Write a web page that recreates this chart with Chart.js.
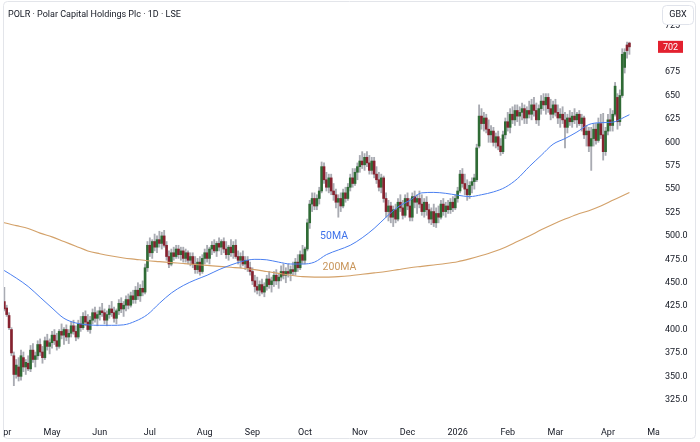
<!DOCTYPE html>
<html>
<head>
<meta charset="utf-8">
<script src="https://cdn.jsdelivr.net/npm/chart.js@4.4.1/dist/chart.umd.min.js"></script>
<style>
  html, body { margin: 0; padding: 0; background: #fff; }
  #wrap { width: 700px; height: 442px; }
</style>
</head>
<body>
<div id="wrap"><canvas id="chart" width="700" height="442"></canvas></div>
<script>
// daily candles, index = trading day counted from 1 Apr 2025
const opens = [430,423,415,400,372,352,360,350,370,360,364,358,378,368,372,384,376,370,388,382,
  386,394,388,382,398,394,400,392,396,404,398,392,406,402,414,408,400,410,418,412,
  416,420,418,410,416,422,418,412,420,428,422,426,432,426,436,432,442,436,444,440,466,
  490,482,494,488,496,492,500,490,478,470,482,478,486,480,484,476,482,474,478,470,464,472,462,
  476,482,476,486,490,484,492,488,494,486,480,488,482,490,478,474,478,470,474,466,
  462,452,446,442,448,440,446,454,448,452,458,452,456,462,458,462,460,464,462,472,466,480,
  474,486,514,534,540,532,540,548,574,560,552,562,548,544,536,540,532,546,540,552,562,556,568,
  574,580,576,584,578,570,580,566,560,552,562,540,526,532,520,528,518,536,530,522,
  540,532,520,542,536,540,534,526,536,528,518,526,514,524,520,534,526,532,528,536,530,
  540,548,566,556,550,544,554,558,560,596,628,620,626,614,608,612,600,606,596,590,608,
  622,616,630,624,634,628,632,636,626,634,630,640,634,624,636,644,640,648,636,630,
  640,632,626,630,624,616,626,622,628,624,630,620,626,608,612,596,604,614,602,620,608,590,
  612,624,618,630,648,622,650,680,704,706];
const highs = [445,426,418,402,376,368,370,378,376,368,372,383,385,376,388,390,382,392,395,390,
  398,400,396,400,406,402,405,400,408,410,404,410,414,418,420,416,414,422,424,420,
  424,428,422,420,426,430,424,422,432,434,430,436,438,440,442,446,450,448,452,470,494,
  498,496,502,500,505,504,506,494,484,486,488,490,490,488,488,486,484,482,482,478,476,478,480,
  486,490,488,494,496,494,498,496,498,494,490,496,494,496,484,482,484,478,478,472,
  466,458,456,452,454,450,458,462,456,462,464,460,468,470,466,470,468,472,476,480,484,490,
  488,518,538,546,546,544,552,579,578,568,566,566,556,550,544,546,550,552,556,566,572,572,578,
  586,590,588,590,586,584,584,574,568,566,564,546,538,536,532,534,540,544,538,544,
  546,540,546,548,544,548,544,540,542,534,530,534,530,532,538,540,536,538,540,542,544,
  552,570,572,566,560,558,562,566,598,640,636,632,630,624,618,616,610,612,604,612,626,
  632,636,638,640,640,638,642,640,638,644,646,648,642,640,650,652,652,652,646,644,
  646,640,636,638,632,630,634,632,636,632,634,630,628,618,616,616,620,620,626,630,631,616,
  630,636,634,664,652,656,700,700,707,707];
const lows = [420,414,400,372,340,348,345,346,355,352,356,355,365,360,368,372,364,368,378,374,
  380,384,378,380,390,384,388,385,392,395,388,390,398,400,404,398,396,406,408,404,
  410,414,406,404,412,414,408,406,416,418,414,420,422,424,428,428,432,430,436,438,462,
  478,476,484,482,488,486,488,474,466,468,474,476,476,474,472,472,470,468,466,460,460,458,460,
  470,472,470,480,482,478,484,480,482,476,474,478,476,476,470,466,468,464,462,458,
  448,440,438,436,438,435,442,444,440,446,448,444,452,454,450,456,452,458,458,462,464,470,
  470,484,508,526,528,528,534,546,556,548,546,544,538,530,520,526,530,536,538,548,552,554,560,
  568,572,570,574,566,566,562,556,548,546,536,520,516,514,510,514,516,526,518,520,
  528,516,516,530,524,530,522,520,522,514,512,510,509,514,518,522,520,524,524,526,528,
  536,546,552,544,538,540,546,550,558,594,614,612,610,600,600,596,594,592,586,588,604,
  612,610,620,618,622,618,624,620,620,626,624,628,620,618,630,634,630,632,624,626,
  628,620,616,620,594,610,618,616,620,616,618,612,604,596,590,570,596,598,600,604,581,586,
  608,612,612,628,614,618,648,674,690,694];
const closes = [422,416,402,375,352,362,350,372,360,365,358,378,368,372,384,376,370,388,382,386,
  394,388,382,398,394,400,392,396,404,398,392,406,402,414,408,400,410,418,412,416,
  420,418,410,416,422,418,412,420,428,422,426,432,426,436,432,442,436,444,440,466,490,
  482,494,488,496,492,500,490,478,470,482,478,486,480,484,476,482,474,478,470,464,472,462,476,
  482,476,486,490,484,492,488,494,486,480,488,482,490,478,474,478,470,474,466,462,
  452,446,442,448,440,446,454,448,452,458,452,456,462,458,462,460,464,462,472,466,480,474,
  486,514,534,540,532,540,548,574,560,552,562,548,544,536,540,532,546,540,552,562,556,568,574,
  580,576,584,578,570,580,566,560,552,562,540,526,532,520,528,518,536,530,522,540,
  532,520,542,536,540,534,526,536,528,518,526,514,524,520,534,526,532,528,536,530,540,
  548,566,556,550,544,554,558,562,594,628,620,626,614,608,612,600,606,596,590,608,622,
  616,630,624,634,628,632,636,626,634,630,640,634,624,636,644,640,648,636,630,640,
  632,626,630,624,616,626,622,628,624,630,620,626,608,612,596,604,614,602,620,608,590,612,
  624,618,630,660,622,650,694,696,698,702];

// moving averages, one point per trading week
const maIdx = [-2,0,5,10,15,20,25,30,35,40,45,50,55,60,65,70,75,80,85,90,95,100,105,110,115,120,125,
  130,135,140,145,150,155,160,165,170,175,180,185,190,195,200,205,210,215,220,225,230,235,240,245,250,255,260,262];
const ma50 = [466,463,455,446,434.5,423,412,407,405,404.5,404.5,405,409,416,428,439,447,453,458,464,469,473,475,474.5,472,470,470,
  472,480,485,490,498,508,520,531,538,546,546.5,545.5,543.5,542,544,547,552,561,574,586,598,604,611,619,621,621.5,627,629.5];
const ma200 = [515,514,511,508,503,499,494,489,484,481,478.5,476.5,475,473.5,472.5,471.5,470.5,469.5,468.5,467.5,466.5,465.5,464,462,460,458,456.5,
  456,456,456.5,457.5,459,460.5,462,464,466,467.5,469,470.5,472.5,475.5,479,483,488,494,500,506.5,512.5,518,523,527,532,538,544,546.5];

const monthIdx = [0,20,40,61,84,104,126,149,169,190,211,231,253,273];
const monthLabels = ['Apr','May','Jun','Jul','Aug','Sep','Oct','Nov','Dec','2026','Feb','Mar','Apr','May'];
const priceTicks = [325,350,375,400,425,450,475,500,525,550,575,600,625,650,675,700,725];
const lastPrice = 702;
const maLabels = [
  { text: '50MA', idx: 138.2, price: 499.4, color: '#3f72ea' },
  { text: '200MA', idx: 140.5, price: 466.8, color: '#c8955a' }
];

const UP = '#2f6b35', DOWN = '#86222f', WICK = '#a9abb2';
const FONT = 'Roboto';

const wickData = highs.map((h, i) => ({ x: i, y: [lows[i], h] }));
const bodyData = opens.map((o, i) => ({ x: i, y: [o, closes[i]] }));
const bodyColors = opens.map((o, i) => closes[i] >= o ? UP : DOWN);

const decorations = {
  id: 'decorations',
  afterDraw(chart) {
    const ctx = chart.ctx;
    const { x, y } = chart.scales;
    const area = chart.chartArea;
    ctx.save();

    // MA labels
    ctx.font = '10.5px ' + FONT;
    ctx.textAlign = 'center';
    ctx.textBaseline = 'middle';
    maLabels.forEach(l => {
      ctx.fillStyle = l.color;
      ctx.fillText(l.text, x.getPixelForValue(l.idx), y.getPixelForValue(l.price));
    });

    // clip x labels at the sides
    ctx.fillStyle = '#fff';
    ctx.fillRect(0, area.bottom + 1, 3, 442 - area.bottom);
    ctx.fillRect(area.right + 0.5, area.bottom + 1, 700 - area.right, 442 - area.bottom);

    // title
    ctx.textAlign = 'left';
    ctx.fillStyle = '#131722';
    ctx.font = '9px ' + FONT;
    ctx.fillText('POLR · Polar Capital Holdings Plc · 1D · LSE', 8, 14.5);

    // currency box
    ctx.beginPath();
    ctx.roundRect(662.5, 5.5, 31, 19, 4);
    ctx.fillStyle = '#fff';
    ctx.fill();
    ctx.strokeStyle = '#e0e3eb';
    ctx.lineWidth = 1;
    ctx.stroke();
    ctx.fillStyle = '#131722';
    ctx.textAlign = 'center';
    ctx.fillText('GBX', 678, 15);

    // last price tag
    const py = y.getPixelForValue(lastPrice);
    ctx.fillStyle = '#e3212f';
    ctx.fillRect(area.right - 1, py - 6, 25, 12);
    ctx.fillStyle = '#fff';
    ctx.fillText(String(lastPrice), area.right + 11.5, py + 0.5);

    // frame
    ctx.beginPath();
    ctx.roundRect(3.5, 1.5, 692, 437, 4);
    ctx.strokeStyle = '#e3e5ea';
    ctx.stroke();
    ctx.restore();
  }
};

new Chart(document.getElementById('chart'), {
  type: 'bar',
  data: {
    datasets: [
      { type: 'line', data: maIdx.map((v, i) => ({ x: v, y: ma50[i] })), borderColor: '#4a7ff0', borderWidth: 1,
        pointRadius: 0, cubicInterpolationMode: 'monotone', order: 0 },
      { type: 'line', data: maIdx.map((v, i) => ({ x: v, y: ma200[i] })), borderColor: '#d3a169', borderWidth: 1.1,
        pointRadius: 0, cubicInterpolationMode: 'monotone', order: 0 },
      { data: bodyData, backgroundColor: bodyColors, barThickness: 2, minBarLength: 1, grouped: false, order: 1 },
      { data: wickData, backgroundColor: WICK, barThickness: 1.2, grouped: false, order: 2 }
    ]
  },
  options: {
    responsive: false,
    animation: false,
    layout: { padding: { left: 4, top: 2, right: 0, bottom: 0 } },
    plugins: { legend: { display: false }, tooltip: { enabled: false } },
    scales: {
      x: {
        type: 'linear',
        min: -0.13,
        max: 274.4,
        offset: false,
        grid: { display: false, drawTicks: false },
        border: { display: false },
        ticks: {
          autoSkip: false, maxRotation: 0, padding: 9, color: '#131722',
          font: { family: FONT, size: 9 },
          callback: (v, i) => monthLabels[i]
        },
        afterBuildTicks: s => { s.ticks = monthIdx.map(v => ({ value: v })); },
        afterFit: s => { s.height = 24; s.paddingLeft = 0; s.paddingRight = 0; }
      },
      y: {
        position: 'right',
        min: 305.5,
        max: 749.9,
        grid: { display: false, drawTicks: false },
        border: { display: false },
        ticks: {
          padding: 6, color: '#131722',
          font: { family: FONT, size: 9 },
          callback: v => v >= 525 ? String(v) : v.toFixed(1)
        },
        afterBuildTicks: s => { s.ticks = priceTicks.map(v => ({ value: v })); },
        afterFit: s => { s.width = 41; s.paddingTop = 0; s.paddingBottom = 0; }
      }
    }
  },
  plugins: [decorations]
});
</script>
</body>
</html>
